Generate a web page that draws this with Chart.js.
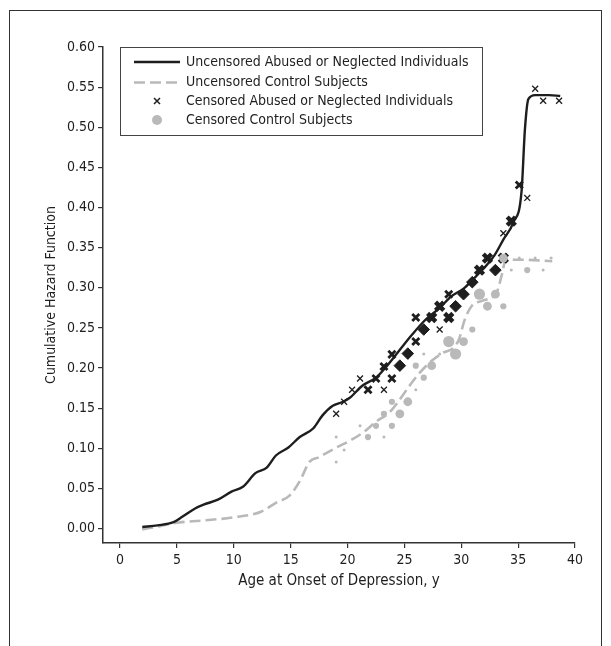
<!DOCTYPE html>
<html>
<head>
<meta charset="utf-8">
<script src="https://cdn.jsdelivr.net/npm/chart.js@4.4.1/dist/chart.umd.min.js"></script>
<style>
  html, body { margin: 0; padding: 0; background: #fff; overflow: hidden; }
  #wrap  { position: relative; width: 611px; height: 646px; }
  #frame { position: absolute; left: 9px; top: 10px; width: 593px; height: 700px;
           border: 1.5px solid #333; box-sizing: border-box; }
  canvas { position: absolute; left: 0; top: 0; }
</style>
</head>
<body>
<div id="wrap">
  <div id="frame"></div>
  <canvas id="chart" width="611" height="646"></canvas>
</div>
<script>
// ─────────────────────────────────────────────
//  Data
// ─────────────────────────────────────────────

const X_TICKS = [0, 5, 10, 15, 20, 25, 30, 35, 40];
const Y_TICKS = [0, 0.05, 0.10, 0.15, 0.20, 0.25, 0.30, 0.35, 0.40, 0.45, 0.50, 0.55, 0.60];

const SERIES_NAMES = [
  'Uncensored Abused or Neglected Individuals',
  'Uncensored Control Subjects',
  'Censored Abused or Neglected Individuals',
  'Censored Control Subjects',
];

// Uncensored abused / neglected (solid black)
const ABUSED_AGE = [1.95, 3.3, 4.7, 5.5, 6.6, 7.4, 8.6, 9.8, 10.8, 11.9, 12.9, 13.7, 14.8, 15.8, 17.0, 17.8,
                    18.7, 19.6, 20.2, 21.3, 22.5, 23.3, 24.5, 25.7, 26.7, 28.1, 29.1, 30.2, 31.0, 31.9,
                    32.9, 33.7, 34.6, 35.3, 35.6, 35.9, 36.5, 37.7, 38.7];
const ABUSED_HAZ = [0.002, 0.004, 0.008, 0.015, 0.025, 0.030, 0.036, 0.046, 0.052, 0.069, 0.076, 0.091, 0.101,
                    0.114, 0.125, 0.141, 0.153, 0.158, 0.163, 0.178, 0.188, 0.200, 0.221, 0.242, 0.258,
                    0.275, 0.289, 0.299, 0.310, 0.323, 0.340, 0.360, 0.382, 0.420, 0.498, 0.535, 0.540,
                    0.540, 0.539];

// Uncensored controls (dashed grey)
const CONTROL_AGE = [1.95, 3.5, 4.85, 7.25, 10.0, 12.4, 13.7, 14.9, 15.8, 16.65, 17.5, 18.9, 20.4, 21.4,
                     22.5, 23.7, 24.5, 25.4, 26.4, 27.4, 28.4, 29.3, 29.8, 30.3, 30.9, 31.9, 33.1, 33.6,
                     33.9, 35.3, 38.0];
const CONTROL_HAZ = [-0.001, 0.003, 0.007, 0.010, 0.014, 0.021, 0.032, 0.041, 0.059, 0.083, 0.089, 0.100,
                     0.111, 0.120, 0.133, 0.145, 0.159, 0.177, 0.195, 0.209, 0.219, 0.225, 0.236, 0.260,
                     0.277, 0.284, 0.294, 0.318, 0.335, 0.335, 0.333];

// Censored abused / neglected (x marks), N = relative number censored at that point
const ABUSED_CENS_AGE = [19.0, 19.7, 20.4, 21.1, 21.8, 22.5, 23.2, 23.2, 23.9, 23.9, 24.6, 25.3, 26.0, 26.0,
                         26.7, 27.4, 28.1, 28.1, 28.9, 28.9, 29.5, 30.2, 30.97, 31.6, 32.3, 33.0, 33.7,
                         33.7, 34.4, 35.1, 35.8, 36.5, 37.2, 38.6];
const ABUSED_CENS_HAZ = [0.143, 0.158, 0.173, 0.187, 0.173, 0.187, 0.173, 0.202, 0.187, 0.217, 0.203, 0.218,
                         0.233, 0.263, 0.248, 0.263, 0.248, 0.277, 0.263, 0.292, 0.277, 0.292, 0.307, 0.322,
                         0.337, 0.322, 0.337, 0.368, 0.383, 0.428, 0.412, 0.548, 0.533, 0.533];
const ABUSED_CENS_N   = [1, 1, 1, 1, 2, 2, 1, 2, 2, 2, 4, 4, 2, 2, 4, 3, 1, 3, 3, 2, 4, 4, 4, 3, 3, 4, 3,
                         1, 3, 2, 1, 1, 1, 1];

// Censored controls (grey dots)
const CONTROL_CENS_AGE = [19.0, 19.0, 19.7, 21.1, 21.8, 22.5, 23.2, 23.2, 23.9, 23.9, 24.6, 25.3, 26.0, 26.0,
                          26.7, 26.7, 27.4, 28.1, 28.9, 29.5, 30.2, 30.97, 31.6, 32.3, 33.0, 33.7, 33.7,
                          34.4, 35.1, 35.8, 36.5, 37.2, 37.9];
const CONTROL_CENS_HAZ = [0.114, 0.083, 0.098, 0.128, 0.114, 0.128, 0.114, 0.143, 0.128, 0.158, 0.143, 0.158,
                          0.173, 0.203, 0.188, 0.2175, 0.203, 0.2175, 0.233, 0.2175, 0.233, 0.248, 0.292,
                          0.277, 0.292, 0.277, 0.337, 0.322, 0.337, 0.322, 0.337, 0.322, 0.337];
const CONTROL_CENS_N   = [1, 1, 1, 1, 2, 2, 1, 2, 2, 2, 3, 3, 1, 2, 2, 1, 3, 1, 4, 4, 3, 2, 4, 3, 3, 2, 3,
                          1, 1, 2, 1, 1, 1];

// ─────────────────────────────────────────────
//  Styling
// ─────────────────────────────────────────────

const FONT  = '"Liberation Sans Narrow", "DejaVu Sans Condensed", "Roboto", sans-serif';
const INK   = '#1e1e1e';
const GREY  = '#b9b9b9';
const DASH  = [11, 5];

const zip = (xs, ys) => xs.map((x, i) => ({ x, y: ys[i] }));

// marker look per censored count
const xRadius = [0, 4.2, 5.0, 5.8, 5.8];
const xWidth  = [0, 1.3, 2.8, 4.4, 1];
const dotRad  = [0, 1.5, 3.1, 4.4, 5.6];

// ─────────────────────────────────────────────
//  Legend drawn inside plot
// ─────────────────────────────────────────────

const legendBox = {
  id: 'legendBox',
  afterDraw(chart) {
    const c = chart.ctx;
    const L = 120.5, T = 47.5, W = 362, H = 88;
    c.save();
    c.fillStyle = '#fff';
    c.fillRect(L, T, W, H);
    c.strokeStyle = '#444';
    c.lineWidth = 1;
    c.strokeRect(L, T, W, H);

    const rows = [62, 82.5, 101, 120];
    const x0 = 134, x1 = 180, xm = 157, xt = 186;

    c.lineWidth = 2.4;
    c.strokeStyle = INK;
    c.beginPath(); c.moveTo(x0, rows[0]); c.lineTo(x1, rows[0]); c.stroke();

    c.strokeStyle = GREY;
    c.lineWidth = 2.6;
    c.setLineDash(DASH);
    c.beginPath(); c.moveTo(x0, rows[1]); c.lineTo(x1, rows[1]); c.stroke();
    c.setLineDash([]);

    c.strokeStyle = INK;
    c.lineWidth = 1.5;
    c.beginPath();
    c.moveTo(xm - 3, rows[2] - 3); c.lineTo(xm + 3, rows[2] + 3);
    c.moveTo(xm + 3, rows[2] - 3); c.lineTo(xm - 3, rows[2] + 3);
    c.stroke();

    c.fillStyle = GREY;
    c.beginPath(); c.arc(xm, rows[3], 5, 0, Math.PI * 2); c.fill();

    c.fillStyle = INK;
    c.font = '14px ' + FONT;
    c.textBaseline = 'middle';
    SERIES_NAMES.forEach((t, i) => c.fillText(t, xt, rows[i]));
    c.restore();
  }
};

// ─────────────────────────────────────────────
//  Chart
// ─────────────────────────────────────────────

Chart.defaults.font.family = FONT;
Chart.defaults.color = INK;

new Chart(document.getElementById('chart'), {
  type: 'scatter',
  data: {
    datasets: [
      {
        label: SERIES_NAMES[3],
        data: zip(CONTROL_CENS_AGE, CONTROL_CENS_HAZ),
        pointStyle: 'circle',
        pointRadius: ctx => dotRad[CONTROL_CENS_N[ctx.dataIndex]],
        pointBackgroundColor: GREY,
        pointBorderWidth: 0,
        order: 1,
      },
      {
        label: SERIES_NAMES[2],
        data: zip(ABUSED_CENS_AGE, ABUSED_CENS_HAZ),
        pointStyle: ctx => ABUSED_CENS_N[ctx.dataIndex] === 4 ? 'rectRot' : 'crossRot',
        pointRadius: ctx => xRadius[ABUSED_CENS_N[ctx.dataIndex]],
        pointBorderWidth: ctx => xWidth[ABUSED_CENS_N[ctx.dataIndex]],
        pointBackgroundColor: INK,
        pointBorderColor: INK,
        order: 2,
      },
      {
        label: SERIES_NAMES[0],
        data: zip(ABUSED_AGE, ABUSED_HAZ),
        showLine: true,
        borderColor: INK,
        borderWidth: 2.4,
        pointRadius: 0,
        cubicInterpolationMode: 'monotone',
        order: 3,
      },
      {
        label: SERIES_NAMES[1],
        data: zip(CONTROL_AGE, CONTROL_HAZ),
        showLine: true,
        borderColor: GREY,
        borderWidth: 2.6,
        borderDash: DASH,
        pointRadius: 0,
        cubicInterpolationMode: 'monotone',
        order: 4,
      },
    ]
  },
  options: {
    responsive: false,
    animation: false,
    events: [],
    layout: { padding: { top: 47, right: 36, left: 0, bottom: 0 } },
    plugins: { legend: { display: false }, tooltip: { enabled: false } },
    scales: {
      x: {
        type: 'linear',
        min: -1.5,
        max: 40,
        afterBuildTicks: s => { s.ticks = X_TICKS.map(v => ({ value: v })); },
        afterFit: s => { s.height = 103; },
        grid: { drawOnChartArea: false, drawTicks: true, tickLength: 5, color: '#333', lineWidth: 1.2 },
        border: { color: '#333', width: 1.5 },
        ticks: { font: { size: 14 }, color: INK, padding: 4, maxRotation: 0 },
        title: { display: true, text: 'Age at Onset of Depression, y', font: { size: 15 },
                 color: INK, padding: { top: 0, bottom: 56 } },
      },
      y: {
        type: 'linear',
        min: -0.018,
        max: 0.60,
        afterBuildTicks: s => { s.ticks = Y_TICKS.map(v => ({ value: v })); },
        afterFit: s => { s.width = 103; },
        grid: { drawOnChartArea: false, drawTicks: true, tickLength: 5, color: '#333', lineWidth: 1.2 },
        border: { color: '#333', width: 1.5 },
        ticks: { font: { size: 14 }, color: INK, padding: 3, callback: v => v.toFixed(2) },
        title: { display: true, text: 'Cumulative Hazard Function', font: { size: 14 },
                 color: INK, padding: { top: 43, bottom: 0 } },
      }
    }
  },
  plugins: [legendBox]
});
</script>
</body>
</html>
